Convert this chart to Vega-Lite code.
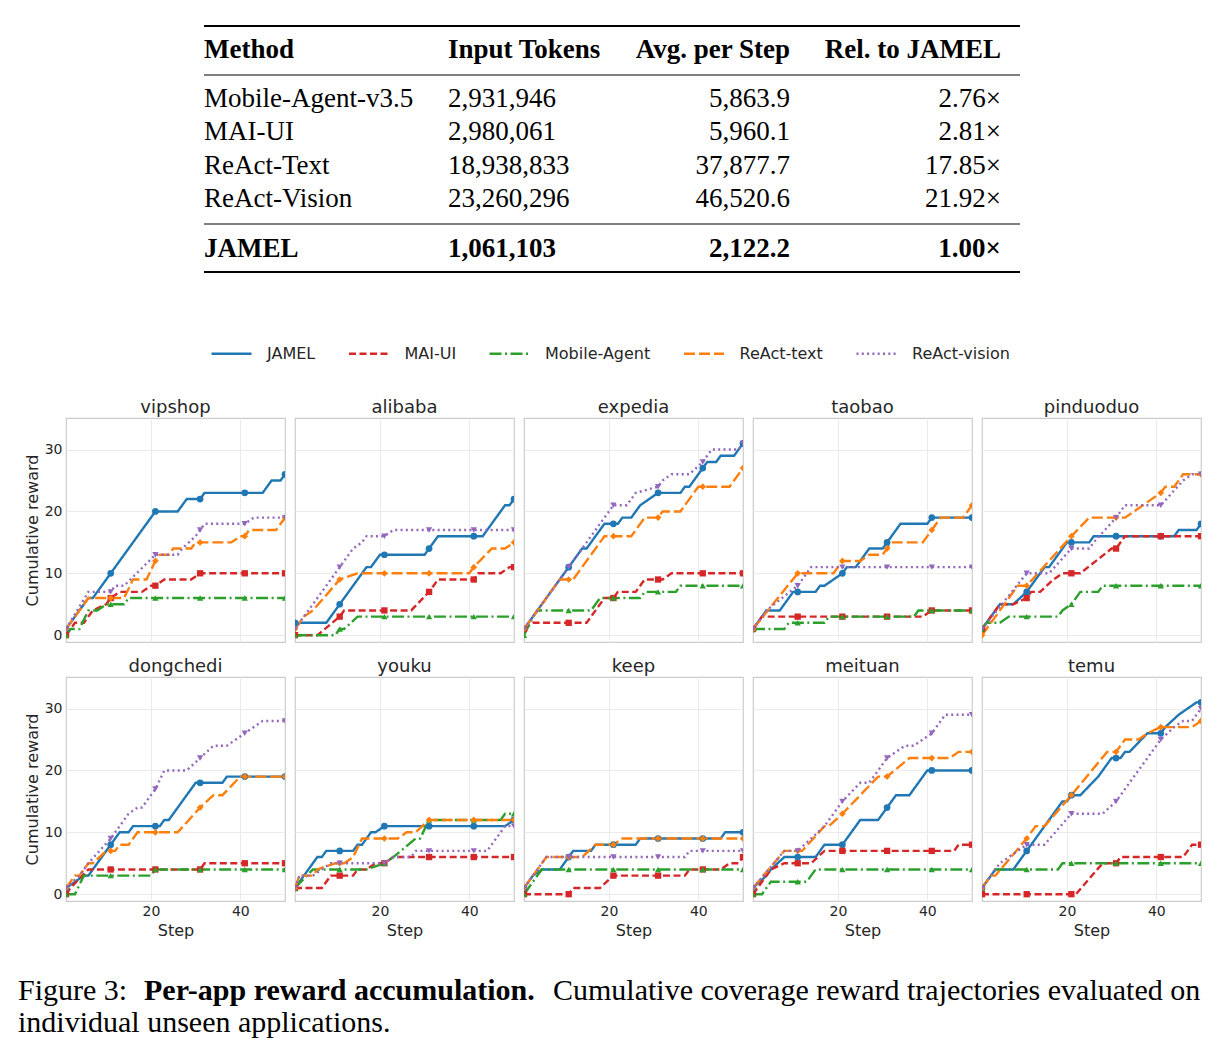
{
"$schema":"https://vega.github.io/schema/vega-lite/v6.json",
"background":"white",
"padding":{"left":18,"top":0,"right":0,"bottom":0},
"spacing":15,
"config":{"font":"DejaVu Sans","view":{"stroke":"#cccccc","strokeWidth":1.2},
"axis":{"labelFont":"DejaVu Sans","labelFontSize":14,"labelColor":"#262626","titleFont":"DejaVu Sans","titleFontSize":16,"titleFontWeight":"normal","titleColor":"#262626","ticks":false,"domain":false,"gridColor":"#ebebeb","gridWidth":1,"labelPadding":4,"titlePadding":4},
"header":{"labelFontSize":18,"labelFont":"DejaVu Sans","labelColor":"#262626","labelPadding":1},
"legend":{"orient":"none","legendX":144,"legendY":332,"direction":"horizontal","symbolType":"stroke","symbolSize":1600,"symbolStrokeWidth":2.4,"labelFontSize":16,"labelFont":"DejaVu Sans","labelColor":"#262626","labelOffset":14,"columnPadding":27.5,"padding":0}},
"data":{"values":[
{"a":"vipshop","m":"JAMEL","s":1,"v":1},{"a":"vipshop","m":"JAMEL","s":6,"v":6},{"a":"vipshop","m":"JAMEL","s":7,"v":6},{"a":"vipshop","m":"JAMEL","s":11,"v":10},{"a":"vipshop","m":"JAMEL","s":21,"v":20},{"a":"vipshop","m":"JAMEL","s":26,"v":20},{"a":"vipshop","m":"JAMEL","s":28,"v":22},{"a":"vipshop","m":"JAMEL","s":31,"v":22},{"a":"vipshop","m":"JAMEL","s":32,"v":23},{"a":"vipshop","m":"JAMEL","s":41,"v":23},{"a":"vipshop","m":"JAMEL","s":45,"v":23},{"a":"vipshop","m":"JAMEL","s":47,"v":25},{"a":"vipshop","m":"JAMEL","s":49,"v":25},{"a":"vipshop","m":"JAMEL","s":50,"v":26},
{"a":"vipshop","m":"MAI-UI","s":1,"v":0},{"a":"vipshop","m":"MAI-UI","s":3,"v":2},{"a":"vipshop","m":"MAI-UI","s":5,"v":2},{"a":"vipshop","m":"MAI-UI","s":7,"v":4},{"a":"vipshop","m":"MAI-UI","s":10,"v":5},{"a":"vipshop","m":"MAI-UI","s":11,"v":6},{"a":"vipshop","m":"MAI-UI","s":13,"v":7},{"a":"vipshop","m":"MAI-UI","s":18,"v":7},{"a":"vipshop","m":"MAI-UI","s":20,"v":8},{"a":"vipshop","m":"MAI-UI","s":21,"v":8},{"a":"vipshop","m":"MAI-UI","s":23,"v":9},{"a":"vipshop","m":"MAI-UI","s":29,"v":9},{"a":"vipshop","m":"MAI-UI","s":31,"v":10},{"a":"vipshop","m":"MAI-UI","s":41,"v":10},{"a":"vipshop","m":"MAI-UI","s":50,"v":10},
{"a":"vipshop","m":"Mobile-Agent","s":1,"v":0},{"a":"vipshop","m":"Mobile-Agent","s":2,"v":1},{"a":"vipshop","m":"Mobile-Agent","s":4,"v":1},{"a":"vipshop","m":"Mobile-Agent","s":6,"v":4},{"a":"vipshop","m":"Mobile-Agent","s":8,"v":4},{"a":"vipshop","m":"Mobile-Agent","s":10,"v":5},{"a":"vipshop","m":"Mobile-Agent","s":11,"v":5},{"a":"vipshop","m":"Mobile-Agent","s":14,"v":5},{"a":"vipshop","m":"Mobile-Agent","s":15,"v":6},{"a":"vipshop","m":"Mobile-Agent","s":21,"v":6},{"a":"vipshop","m":"Mobile-Agent","s":31,"v":6},{"a":"vipshop","m":"Mobile-Agent","s":41,"v":6},{"a":"vipshop","m":"Mobile-Agent","s":50,"v":6},
{"a":"vipshop","m":"ReAct-text","s":1,"v":1},{"a":"vipshop","m":"ReAct-text","s":6,"v":6},{"a":"vipshop","m":"ReAct-text","s":11,"v":6},{"a":"vipshop","m":"ReAct-text","s":14,"v":6},{"a":"vipshop","m":"ReAct-text","s":16,"v":9},{"a":"vipshop","m":"ReAct-text","s":19,"v":9},{"a":"vipshop","m":"ReAct-text","s":21,"v":12},{"a":"vipshop","m":"ReAct-text","s":22,"v":13},{"a":"vipshop","m":"ReAct-text","s":24,"v":13},{"a":"vipshop","m":"ReAct-text","s":25,"v":14},{"a":"vipshop","m":"ReAct-text","s":29,"v":14},{"a":"vipshop","m":"ReAct-text","s":30,"v":15},{"a":"vipshop","m":"ReAct-text","s":31,"v":15},{"a":"vipshop","m":"ReAct-text","s":38,"v":15},{"a":"vipshop","m":"ReAct-text","s":40,"v":16},{"a":"vipshop","m":"ReAct-text","s":41,"v":16},{"a":"vipshop","m":"ReAct-text","s":42,"v":17},{"a":"vipshop","m":"ReAct-text","s":48,"v":17},{"a":"vipshop","m":"ReAct-text","s":50,"v":19},
{"a":"vipshop","m":"ReAct-vision","s":1,"v":1},{"a":"vipshop","m":"ReAct-vision","s":6,"v":7},{"a":"vipshop","m":"ReAct-vision","s":11,"v":7},{"a":"vipshop","m":"ReAct-vision","s":12,"v":8},{"a":"vipshop","m":"ReAct-vision","s":14,"v":8},{"a":"vipshop","m":"ReAct-vision","s":21,"v":13},{"a":"vipshop","m":"ReAct-vision","s":26,"v":13},{"a":"vipshop","m":"ReAct-vision","s":27,"v":14},{"a":"vipshop","m":"ReAct-vision","s":30,"v":16},{"a":"vipshop","m":"ReAct-vision","s":31,"v":17},{"a":"vipshop","m":"ReAct-vision","s":32,"v":18},{"a":"vipshop","m":"ReAct-vision","s":41,"v":18},{"a":"vipshop","m":"ReAct-vision","s":43,"v":19},{"a":"vipshop","m":"ReAct-vision","s":50,"v":19},
{"a":"alibaba","m":"JAMEL","s":1,"v":2},{"a":"alibaba","m":"JAMEL","s":8,"v":2},{"a":"alibaba","m":"JAMEL","s":11,"v":5},{"a":"alibaba","m":"JAMEL","s":16,"v":10},{"a":"alibaba","m":"JAMEL","s":17,"v":11},{"a":"alibaba","m":"JAMEL","s":18,"v":11},{"a":"alibaba","m":"JAMEL","s":20,"v":13},{"a":"alibaba","m":"JAMEL","s":21,"v":13},{"a":"alibaba","m":"JAMEL","s":30,"v":13},{"a":"alibaba","m":"JAMEL","s":31,"v":14},{"a":"alibaba","m":"JAMEL","s":33,"v":16},{"a":"alibaba","m":"JAMEL","s":41,"v":16},{"a":"alibaba","m":"JAMEL","s":43,"v":16},{"a":"alibaba","m":"JAMEL","s":48,"v":21},{"a":"alibaba","m":"JAMEL","s":49,"v":21},{"a":"alibaba","m":"JAMEL","s":50,"v":22},
{"a":"alibaba","m":"MAI-UI","s":1,"v":0},{"a":"alibaba","m":"MAI-UI","s":6,"v":0},{"a":"alibaba","m":"MAI-UI","s":11,"v":3},{"a":"alibaba","m":"MAI-UI","s":12,"v":4},{"a":"alibaba","m":"MAI-UI","s":21,"v":4},{"a":"alibaba","m":"MAI-UI","s":27,"v":4},{"a":"alibaba","m":"MAI-UI","s":31,"v":7},{"a":"alibaba","m":"MAI-UI","s":32,"v":8},{"a":"alibaba","m":"MAI-UI","s":33,"v":9},{"a":"alibaba","m":"MAI-UI","s":41,"v":9},{"a":"alibaba","m":"MAI-UI","s":42,"v":10},{"a":"alibaba","m":"MAI-UI","s":47,"v":10},{"a":"alibaba","m":"MAI-UI","s":49,"v":11},{"a":"alibaba","m":"MAI-UI","s":50,"v":11},
{"a":"alibaba","m":"Mobile-Agent","s":1,"v":0},{"a":"alibaba","m":"Mobile-Agent","s":10,"v":0},{"a":"alibaba","m":"Mobile-Agent","s":11,"v":1},{"a":"alibaba","m":"Mobile-Agent","s":12,"v":1},{"a":"alibaba","m":"Mobile-Agent","s":15,"v":3},{"a":"alibaba","m":"Mobile-Agent","s":21,"v":3},{"a":"alibaba","m":"Mobile-Agent","s":31,"v":3},{"a":"alibaba","m":"Mobile-Agent","s":41,"v":3},{"a":"alibaba","m":"Mobile-Agent","s":50,"v":3},
{"a":"alibaba","m":"ReAct-text","s":1,"v":1},{"a":"alibaba","m":"ReAct-text","s":3,"v":3},{"a":"alibaba","m":"ReAct-text","s":5,"v":4},{"a":"alibaba","m":"ReAct-text","s":11,"v":9},{"a":"alibaba","m":"ReAct-text","s":15,"v":10},{"a":"alibaba","m":"ReAct-text","s":21,"v":10},{"a":"alibaba","m":"ReAct-text","s":31,"v":10},{"a":"alibaba","m":"ReAct-text","s":40,"v":10},{"a":"alibaba","m":"ReAct-text","s":41,"v":11},{"a":"alibaba","m":"ReAct-text","s":45,"v":14},{"a":"alibaba","m":"ReAct-text","s":48,"v":14},{"a":"alibaba","m":"ReAct-text","s":50,"v":15},
{"a":"alibaba","m":"ReAct-vision","s":1,"v":1},{"a":"alibaba","m":"ReAct-vision","s":11,"v":11},{"a":"alibaba","m":"ReAct-vision","s":14,"v":14},{"a":"alibaba","m":"ReAct-vision","s":16,"v":15},{"a":"alibaba","m":"ReAct-vision","s":17,"v":16},{"a":"alibaba","m":"ReAct-vision","s":21,"v":16},{"a":"alibaba","m":"ReAct-vision","s":23,"v":17},{"a":"alibaba","m":"ReAct-vision","s":31,"v":17},{"a":"alibaba","m":"ReAct-vision","s":41,"v":17},{"a":"alibaba","m":"ReAct-vision","s":50,"v":17},
{"a":"expedia","m":"JAMEL","s":1,"v":1},{"a":"expedia","m":"JAMEL","s":11,"v":11},{"a":"expedia","m":"JAMEL","s":14,"v":14},{"a":"expedia","m":"JAMEL","s":15,"v":14},{"a":"expedia","m":"JAMEL","s":19,"v":18},{"a":"expedia","m":"JAMEL","s":21,"v":18},{"a":"expedia","m":"JAMEL","s":22,"v":18},{"a":"expedia","m":"JAMEL","s":23,"v":19},{"a":"expedia","m":"JAMEL","s":25,"v":19},{"a":"expedia","m":"JAMEL","s":27,"v":21},{"a":"expedia","m":"JAMEL","s":29,"v":22},{"a":"expedia","m":"JAMEL","s":31,"v":23},{"a":"expedia","m":"JAMEL","s":36,"v":23},{"a":"expedia","m":"JAMEL","s":37,"v":24},{"a":"expedia","m":"JAMEL","s":38,"v":24},{"a":"expedia","m":"JAMEL","s":41,"v":27},{"a":"expedia","m":"JAMEL","s":42,"v":28},{"a":"expedia","m":"JAMEL","s":44,"v":28},{"a":"expedia","m":"JAMEL","s":45,"v":29},{"a":"expedia","m":"JAMEL","s":48,"v":29},{"a":"expedia","m":"JAMEL","s":50,"v":31},
{"a":"expedia","m":"MAI-UI","s":1,"v":1},{"a":"expedia","m":"MAI-UI","s":3,"v":2},{"a":"expedia","m":"MAI-UI","s":11,"v":2},{"a":"expedia","m":"MAI-UI","s":15,"v":2},{"a":"expedia","m":"MAI-UI","s":19,"v":6},{"a":"expedia","m":"MAI-UI","s":21,"v":6},{"a":"expedia","m":"MAI-UI","s":22,"v":7},{"a":"expedia","m":"MAI-UI","s":26,"v":7},{"a":"expedia","m":"MAI-UI","s":28,"v":9},{"a":"expedia","m":"MAI-UI","s":31,"v":9},{"a":"expedia","m":"MAI-UI","s":32,"v":9},{"a":"expedia","m":"MAI-UI","s":34,"v":10},{"a":"expedia","m":"MAI-UI","s":41,"v":10},{"a":"expedia","m":"MAI-UI","s":50,"v":10},
{"a":"expedia","m":"Mobile-Agent","s":1,"v":0},{"a":"expedia","m":"Mobile-Agent","s":3,"v":3},{"a":"expedia","m":"Mobile-Agent","s":4,"v":4},{"a":"expedia","m":"Mobile-Agent","s":11,"v":4},{"a":"expedia","m":"Mobile-Agent","s":16,"v":4},{"a":"expedia","m":"Mobile-Agent","s":18,"v":6},{"a":"expedia","m":"Mobile-Agent","s":21,"v":6},{"a":"expedia","m":"Mobile-Agent","s":27,"v":6},{"a":"expedia","m":"Mobile-Agent","s":28,"v":7},{"a":"expedia","m":"Mobile-Agent","s":31,"v":7},{"a":"expedia","m":"Mobile-Agent","s":35,"v":7},{"a":"expedia","m":"Mobile-Agent","s":36,"v":8},{"a":"expedia","m":"Mobile-Agent","s":41,"v":8},{"a":"expedia","m":"Mobile-Agent","s":50,"v":8},
{"a":"expedia","m":"ReAct-text","s":1,"v":1},{"a":"expedia","m":"ReAct-text","s":9,"v":9},{"a":"expedia","m":"ReAct-text","s":11,"v":9},{"a":"expedia","m":"ReAct-text","s":12,"v":9},{"a":"expedia","m":"ReAct-text","s":19,"v":16},{"a":"expedia","m":"ReAct-text","s":21,"v":16},{"a":"expedia","m":"ReAct-text","s":25,"v":16},{"a":"expedia","m":"ReAct-text","s":28,"v":19},{"a":"expedia","m":"ReAct-text","s":31,"v":19},{"a":"expedia","m":"ReAct-text","s":32,"v":20},{"a":"expedia","m":"ReAct-text","s":36,"v":20},{"a":"expedia","m":"ReAct-text","s":40,"v":24},{"a":"expedia","m":"ReAct-text","s":41,"v":24},{"a":"expedia","m":"ReAct-text","s":47,"v":24},{"a":"expedia","m":"ReAct-text","s":50,"v":27},
{"a":"expedia","m":"ReAct-vision","s":1,"v":1},{"a":"expedia","m":"ReAct-vision","s":11,"v":11},{"a":"expedia","m":"ReAct-vision","s":15,"v":15},{"a":"expedia","m":"ReAct-vision","s":21,"v":21},{"a":"expedia","m":"ReAct-vision","s":24,"v":21},{"a":"expedia","m":"ReAct-vision","s":26,"v":23},{"a":"expedia","m":"ReAct-vision","s":31,"v":24},{"a":"expedia","m":"ReAct-vision","s":32,"v":25},{"a":"expedia","m":"ReAct-vision","s":34,"v":26},{"a":"expedia","m":"ReAct-vision","s":38,"v":26},{"a":"expedia","m":"ReAct-vision","s":41,"v":28},{"a":"expedia","m":"ReAct-vision","s":43,"v":30},{"a":"expedia","m":"ReAct-vision","s":49,"v":30},{"a":"expedia","m":"ReAct-vision","s":50,"v":31},
{"a":"taobao","m":"JAMEL","s":1,"v":1},{"a":"taobao","m":"JAMEL","s":2,"v":2},{"a":"taobao","m":"JAMEL","s":4,"v":4},{"a":"taobao","m":"JAMEL","s":7,"v":4},{"a":"taobao","m":"JAMEL","s":10,"v":7},{"a":"taobao","m":"JAMEL","s":11,"v":7},{"a":"taobao","m":"JAMEL","s":15,"v":7},{"a":"taobao","m":"JAMEL","s":16,"v":8},{"a":"taobao","m":"JAMEL","s":17,"v":8},{"a":"taobao","m":"JAMEL","s":21,"v":10},{"a":"taobao","m":"JAMEL","s":22,"v":11},{"a":"taobao","m":"JAMEL","s":24,"v":11},{"a":"taobao","m":"JAMEL","s":27,"v":14},{"a":"taobao","m":"JAMEL","s":30,"v":14},{"a":"taobao","m":"JAMEL","s":31,"v":15},{"a":"taobao","m":"JAMEL","s":34,"v":18},{"a":"taobao","m":"JAMEL","s":40,"v":18},{"a":"taobao","m":"JAMEL","s":41,"v":19},{"a":"taobao","m":"JAMEL","s":50,"v":19},
{"a":"taobao","m":"MAI-UI","s":1,"v":1},{"a":"taobao","m":"MAI-UI","s":3,"v":3},{"a":"taobao","m":"MAI-UI","s":11,"v":3},{"a":"taobao","m":"MAI-UI","s":21,"v":3},{"a":"taobao","m":"MAI-UI","s":31,"v":3},{"a":"taobao","m":"MAI-UI","s":39,"v":3},{"a":"taobao","m":"MAI-UI","s":41,"v":4},{"a":"taobao","m":"MAI-UI","s":50,"v":4},
{"a":"taobao","m":"Mobile-Agent","s":1,"v":1},{"a":"taobao","m":"Mobile-Agent","s":8,"v":1},{"a":"taobao","m":"Mobile-Agent","s":9,"v":2},{"a":"taobao","m":"Mobile-Agent","s":11,"v":2},{"a":"taobao","m":"Mobile-Agent","s":17,"v":2},{"a":"taobao","m":"Mobile-Agent","s":18,"v":3},{"a":"taobao","m":"Mobile-Agent","s":21,"v":3},{"a":"taobao","m":"Mobile-Agent","s":31,"v":3},{"a":"taobao","m":"Mobile-Agent","s":37,"v":3},{"a":"taobao","m":"Mobile-Agent","s":38,"v":4},{"a":"taobao","m":"Mobile-Agent","s":41,"v":4},{"a":"taobao","m":"Mobile-Agent","s":50,"v":4},
{"a":"taobao","m":"ReAct-text","s":1,"v":1},{"a":"taobao","m":"ReAct-text","s":11,"v":10},{"a":"taobao","m":"ReAct-text","s":19,"v":10},{"a":"taobao","m":"ReAct-text","s":21,"v":12},{"a":"taobao","m":"ReAct-text","s":25,"v":12},{"a":"taobao","m":"ReAct-text","s":27,"v":13},{"a":"taobao","m":"ReAct-text","s":30,"v":13},{"a":"taobao","m":"ReAct-text","s":31,"v":14},{"a":"taobao","m":"ReAct-text","s":32,"v":15},{"a":"taobao","m":"ReAct-text","s":39,"v":15},{"a":"taobao","m":"ReAct-text","s":41,"v":17},{"a":"taobao","m":"ReAct-text","s":43,"v":19},{"a":"taobao","m":"ReAct-text","s":48,"v":19},{"a":"taobao","m":"ReAct-text","s":50,"v":21},
{"a":"taobao","m":"ReAct-vision","s":1,"v":1},{"a":"taobao","m":"ReAct-vision","s":4,"v":4},{"a":"taobao","m":"ReAct-vision","s":11,"v":8},{"a":"taobao","m":"ReAct-vision","s":14,"v":11},{"a":"taobao","m":"ReAct-vision","s":21,"v":11},{"a":"taobao","m":"ReAct-vision","s":31,"v":11},{"a":"taobao","m":"ReAct-vision","s":41,"v":11},{"a":"taobao","m":"ReAct-vision","s":50,"v":11},
{"a":"pinduoduo","m":"JAMEL","s":1,"v":1},{"a":"pinduoduo","m":"JAMEL","s":2,"v":2},{"a":"pinduoduo","m":"JAMEL","s":5,"v":5},{"a":"pinduoduo","m":"JAMEL","s":8,"v":5},{"a":"pinduoduo","m":"JAMEL","s":11,"v":7},{"a":"pinduoduo","m":"JAMEL","s":14,"v":10},{"a":"pinduoduo","m":"JAMEL","s":15,"v":11},{"a":"pinduoduo","m":"JAMEL","s":16,"v":11},{"a":"pinduoduo","m":"JAMEL","s":20,"v":15},{"a":"pinduoduo","m":"JAMEL","s":21,"v":15},{"a":"pinduoduo","m":"JAMEL","s":25,"v":15},{"a":"pinduoduo","m":"JAMEL","s":26,"v":16},{"a":"pinduoduo","m":"JAMEL","s":31,"v":16},{"a":"pinduoduo","m":"JAMEL","s":41,"v":16},{"a":"pinduoduo","m":"JAMEL","s":44,"v":16},{"a":"pinduoduo","m":"JAMEL","s":45,"v":17},{"a":"pinduoduo","m":"JAMEL","s":49,"v":17},{"a":"pinduoduo","m":"JAMEL","s":50,"v":18},
{"a":"pinduoduo","m":"MAI-UI","s":1,"v":1},{"a":"pinduoduo","m":"MAI-UI","s":2,"v":2},{"a":"pinduoduo","m":"MAI-UI","s":5,"v":5},{"a":"pinduoduo","m":"MAI-UI","s":8,"v":5},{"a":"pinduoduo","m":"MAI-UI","s":11,"v":6},{"a":"pinduoduo","m":"MAI-UI","s":12,"v":7},{"a":"pinduoduo","m":"MAI-UI","s":14,"v":7},{"a":"pinduoduo","m":"MAI-UI","s":17,"v":9},{"a":"pinduoduo","m":"MAI-UI","s":19,"v":10},{"a":"pinduoduo","m":"MAI-UI","s":21,"v":10},{"a":"pinduoduo","m":"MAI-UI","s":23,"v":10},{"a":"pinduoduo","m":"MAI-UI","s":30,"v":14},{"a":"pinduoduo","m":"MAI-UI","s":31,"v":14},{"a":"pinduoduo","m":"MAI-UI","s":33,"v":16},{"a":"pinduoduo","m":"MAI-UI","s":41,"v":16},{"a":"pinduoduo","m":"MAI-UI","s":50,"v":16},
{"a":"pinduoduo","m":"Mobile-Agent","s":1,"v":1},{"a":"pinduoduo","m":"Mobile-Agent","s":2,"v":2},{"a":"pinduoduo","m":"Mobile-Agent","s":5,"v":2},{"a":"pinduoduo","m":"Mobile-Agent","s":7,"v":3},{"a":"pinduoduo","m":"Mobile-Agent","s":11,"v":3},{"a":"pinduoduo","m":"Mobile-Agent","s":18,"v":3},{"a":"pinduoduo","m":"Mobile-Agent","s":19,"v":4},{"a":"pinduoduo","m":"Mobile-Agent","s":21,"v":5},{"a":"pinduoduo","m":"Mobile-Agent","s":23,"v":7},{"a":"pinduoduo","m":"Mobile-Agent","s":27,"v":7},{"a":"pinduoduo","m":"Mobile-Agent","s":28,"v":8},{"a":"pinduoduo","m":"Mobile-Agent","s":31,"v":8},{"a":"pinduoduo","m":"Mobile-Agent","s":41,"v":8},{"a":"pinduoduo","m":"Mobile-Agent","s":50,"v":8},
{"a":"pinduoduo","m":"ReAct-text","s":1,"v":0},{"a":"pinduoduo","m":"ReAct-text","s":9,"v":8},{"a":"pinduoduo","m":"ReAct-text","s":11,"v":8},{"a":"pinduoduo","m":"ReAct-text","s":21,"v":16},{"a":"pinduoduo","m":"ReAct-text","s":25,"v":19},{"a":"pinduoduo","m":"ReAct-text","s":31,"v":19},{"a":"pinduoduo","m":"ReAct-text","s":33,"v":19},{"a":"pinduoduo","m":"ReAct-text","s":35,"v":20},{"a":"pinduoduo","m":"ReAct-text","s":41,"v":23},{"a":"pinduoduo","m":"ReAct-text","s":42,"v":24},{"a":"pinduoduo","m":"ReAct-text","s":44,"v":24},{"a":"pinduoduo","m":"ReAct-text","s":46,"v":26},{"a":"pinduoduo","m":"ReAct-text","s":50,"v":26},
{"a":"pinduoduo","m":"ReAct-vision","s":1,"v":1},{"a":"pinduoduo","m":"ReAct-vision","s":11,"v":10},{"a":"pinduoduo","m":"ReAct-vision","s":16,"v":10},{"a":"pinduoduo","m":"ReAct-vision","s":21,"v":14},{"a":"pinduoduo","m":"ReAct-vision","s":25,"v":14},{"a":"pinduoduo","m":"ReAct-vision","s":26,"v":15},{"a":"pinduoduo","m":"ReAct-vision","s":31,"v":19},{"a":"pinduoduo","m":"ReAct-vision","s":32,"v":20},{"a":"pinduoduo","m":"ReAct-vision","s":33,"v":21},{"a":"pinduoduo","m":"ReAct-vision","s":41,"v":21},{"a":"pinduoduo","m":"ReAct-vision","s":46,"v":25},{"a":"pinduoduo","m":"ReAct-vision","s":48,"v":26},{"a":"pinduoduo","m":"ReAct-vision","s":50,"v":26},
{"a":"dongchedi","m":"JAMEL","s":1,"v":1},{"a":"dongchedi","m":"JAMEL","s":3,"v":2},{"a":"dongchedi","m":"JAMEL","s":5,"v":3},{"a":"dongchedi","m":"JAMEL","s":6,"v":3},{"a":"dongchedi","m":"JAMEL","s":11,"v":8},{"a":"dongchedi","m":"JAMEL","s":13,"v":10},{"a":"dongchedi","m":"JAMEL","s":15,"v":10},{"a":"dongchedi","m":"JAMEL","s":16,"v":11},{"a":"dongchedi","m":"JAMEL","s":21,"v":11},{"a":"dongchedi","m":"JAMEL","s":22,"v":11},{"a":"dongchedi","m":"JAMEL","s":23,"v":12},{"a":"dongchedi","m":"JAMEL","s":24,"v":12},{"a":"dongchedi","m":"JAMEL","s":30,"v":18},{"a":"dongchedi","m":"JAMEL","s":31,"v":18},{"a":"dongchedi","m":"JAMEL","s":36,"v":18},{"a":"dongchedi","m":"JAMEL","s":37,"v":19},{"a":"dongchedi","m":"JAMEL","s":41,"v":19},{"a":"dongchedi","m":"JAMEL","s":50,"v":19},
{"a":"dongchedi","m":"MAI-UI","s":1,"v":0},{"a":"dongchedi","m":"MAI-UI","s":2,"v":1},{"a":"dongchedi","m":"MAI-UI","s":6,"v":4},{"a":"dongchedi","m":"MAI-UI","s":11,"v":4},{"a":"dongchedi","m":"MAI-UI","s":21,"v":4},{"a":"dongchedi","m":"MAI-UI","s":30,"v":4},{"a":"dongchedi","m":"MAI-UI","s":31,"v":4},{"a":"dongchedi","m":"MAI-UI","s":32,"v":5},{"a":"dongchedi","m":"MAI-UI","s":41,"v":5},{"a":"dongchedi","m":"MAI-UI","s":50,"v":5},
{"a":"dongchedi","m":"Mobile-Agent","s":1,"v":0},{"a":"dongchedi","m":"Mobile-Agent","s":3,"v":0},{"a":"dongchedi","m":"Mobile-Agent","s":5,"v":3},{"a":"dongchedi","m":"Mobile-Agent","s":11,"v":3},{"a":"dongchedi","m":"Mobile-Agent","s":20,"v":3},{"a":"dongchedi","m":"Mobile-Agent","s":21,"v":4},{"a":"dongchedi","m":"Mobile-Agent","s":31,"v":4},{"a":"dongchedi","m":"Mobile-Agent","s":41,"v":4},{"a":"dongchedi","m":"Mobile-Agent","s":50,"v":4},
{"a":"dongchedi","m":"ReAct-text","s":1,"v":1},{"a":"dongchedi","m":"ReAct-text","s":2,"v":2},{"a":"dongchedi","m":"ReAct-text","s":3,"v":3},{"a":"dongchedi","m":"ReAct-text","s":4,"v":3},{"a":"dongchedi","m":"ReAct-text","s":6,"v":5},{"a":"dongchedi","m":"ReAct-text","s":7,"v":5},{"a":"dongchedi","m":"ReAct-text","s":10,"v":7},{"a":"dongchedi","m":"ReAct-text","s":11,"v":7},{"a":"dongchedi","m":"ReAct-text","s":12,"v":7},{"a":"dongchedi","m":"ReAct-text","s":13,"v":8},{"a":"dongchedi","m":"ReAct-text","s":15,"v":8},{"a":"dongchedi","m":"ReAct-text","s":17,"v":10},{"a":"dongchedi","m":"ReAct-text","s":21,"v":10},{"a":"dongchedi","m":"ReAct-text","s":26,"v":10},{"a":"dongchedi","m":"ReAct-text","s":31,"v":14},{"a":"dongchedi","m":"ReAct-text","s":34,"v":16},{"a":"dongchedi","m":"ReAct-text","s":36,"v":16},{"a":"dongchedi","m":"ReAct-text","s":40,"v":19},{"a":"dongchedi","m":"ReAct-text","s":41,"v":19},{"a":"dongchedi","m":"ReAct-text","s":50,"v":19},
{"a":"dongchedi","m":"ReAct-vision","s":1,"v":1},{"a":"dongchedi","m":"ReAct-vision","s":4,"v":3},{"a":"dongchedi","m":"ReAct-vision","s":6,"v":5},{"a":"dongchedi","m":"ReAct-vision","s":11,"v":9},{"a":"dongchedi","m":"ReAct-vision","s":15,"v":13},{"a":"dongchedi","m":"ReAct-vision","s":17,"v":14},{"a":"dongchedi","m":"ReAct-vision","s":18,"v":14},{"a":"dongchedi","m":"ReAct-vision","s":21,"v":17},{"a":"dongchedi","m":"ReAct-vision","s":23,"v":20},{"a":"dongchedi","m":"ReAct-vision","s":28,"v":20},{"a":"dongchedi","m":"ReAct-vision","s":31,"v":22},{"a":"dongchedi","m":"ReAct-vision","s":34,"v":24},{"a":"dongchedi","m":"ReAct-vision","s":37,"v":24},{"a":"dongchedi","m":"ReAct-vision","s":41,"v":26},{"a":"dongchedi","m":"ReAct-vision","s":45,"v":28},{"a":"dongchedi","m":"ReAct-vision","s":50,"v":28},
{"a":"youku","m":"JAMEL","s":1,"v":1},{"a":"youku","m":"JAMEL","s":6,"v":6},{"a":"youku","m":"JAMEL","s":7,"v":6},{"a":"youku","m":"JAMEL","s":8,"v":7},{"a":"youku","m":"JAMEL","s":11,"v":7},{"a":"youku","m":"JAMEL","s":14,"v":7},{"a":"youku","m":"JAMEL","s":15,"v":8},{"a":"youku","m":"JAMEL","s":16,"v":8},{"a":"youku","m":"JAMEL","s":18,"v":10},{"a":"youku","m":"JAMEL","s":19,"v":10},{"a":"youku","m":"JAMEL","s":21,"v":11},{"a":"youku","m":"JAMEL","s":31,"v":11},{"a":"youku","m":"JAMEL","s":41,"v":11},{"a":"youku","m":"JAMEL","s":48,"v":11},{"a":"youku","m":"JAMEL","s":50,"v":12},
{"a":"youku","m":"MAI-UI","s":1,"v":1},{"a":"youku","m":"MAI-UI","s":7,"v":1},{"a":"youku","m":"MAI-UI","s":9,"v":3},{"a":"youku","m":"MAI-UI","s":11,"v":3},{"a":"youku","m":"MAI-UI","s":14,"v":3},{"a":"youku","m":"MAI-UI","s":15,"v":4},{"a":"youku","m":"MAI-UI","s":17,"v":4},{"a":"youku","m":"MAI-UI","s":19,"v":5},{"a":"youku","m":"MAI-UI","s":21,"v":5},{"a":"youku","m":"MAI-UI","s":23,"v":6},{"a":"youku","m":"MAI-UI","s":31,"v":6},{"a":"youku","m":"MAI-UI","s":41,"v":6},{"a":"youku","m":"MAI-UI","s":50,"v":6},
{"a":"youku","m":"Mobile-Agent","s":1,"v":1},{"a":"youku","m":"Mobile-Agent","s":5,"v":4},{"a":"youku","m":"Mobile-Agent","s":11,"v":4},{"a":"youku","m":"Mobile-Agent","s":17,"v":4},{"a":"youku","m":"Mobile-Agent","s":21,"v":5},{"a":"youku","m":"Mobile-Agent","s":23,"v":6},{"a":"youku","m":"Mobile-Agent","s":28,"v":9},{"a":"youku","m":"Mobile-Agent","s":29,"v":9},{"a":"youku","m":"Mobile-Agent","s":31,"v":12},{"a":"youku","m":"Mobile-Agent","s":41,"v":12},{"a":"youku","m":"Mobile-Agent","s":47,"v":12},{"a":"youku","m":"Mobile-Agent","s":48,"v":13},{"a":"youku","m":"Mobile-Agent","s":50,"v":13},
{"a":"youku","m":"ReAct-text","s":1,"v":1},{"a":"youku","m":"ReAct-text","s":2,"v":3},{"a":"youku","m":"ReAct-text","s":5,"v":3},{"a":"youku","m":"ReAct-text","s":6,"v":4},{"a":"youku","m":"ReAct-text","s":10,"v":5},{"a":"youku","m":"ReAct-text","s":11,"v":5},{"a":"youku","m":"ReAct-text","s":12,"v":5},{"a":"youku","m":"ReAct-text","s":14,"v":6},{"a":"youku","m":"ReAct-text","s":16,"v":9},{"a":"youku","m":"ReAct-text","s":21,"v":9},{"a":"youku","m":"ReAct-text","s":24,"v":9},{"a":"youku","m":"ReAct-text","s":26,"v":10},{"a":"youku","m":"ReAct-text","s":28,"v":10},{"a":"youku","m":"ReAct-text","s":31,"v":12},{"a":"youku","m":"ReAct-text","s":41,"v":12},{"a":"youku","m":"ReAct-text","s":50,"v":12},
{"a":"youku","m":"ReAct-vision","s":1,"v":1},{"a":"youku","m":"ReAct-vision","s":2,"v":3},{"a":"youku","m":"ReAct-vision","s":5,"v":3},{"a":"youku","m":"ReAct-vision","s":9,"v":5},{"a":"youku","m":"ReAct-vision","s":11,"v":5},{"a":"youku","m":"ReAct-vision","s":21,"v":5},{"a":"youku","m":"ReAct-vision","s":23,"v":6},{"a":"youku","m":"ReAct-vision","s":27,"v":6},{"a":"youku","m":"ReAct-vision","s":28,"v":7},{"a":"youku","m":"ReAct-vision","s":31,"v":7},{"a":"youku","m":"ReAct-vision","s":41,"v":7},{"a":"youku","m":"ReAct-vision","s":44,"v":7},{"a":"youku","m":"ReAct-vision","s":48,"v":11},{"a":"youku","m":"ReAct-vision","s":50,"v":11},
{"a":"keep","m":"JAMEL","s":1,"v":1},{"a":"keep","m":"JAMEL","s":3,"v":3},{"a":"keep","m":"JAMEL","s":5,"v":4},{"a":"keep","m":"JAMEL","s":9,"v":4},{"a":"keep","m":"JAMEL","s":11,"v":6},{"a":"keep","m":"JAMEL","s":12,"v":7},{"a":"keep","m":"JAMEL","s":16,"v":7},{"a":"keep","m":"JAMEL","s":17,"v":8},{"a":"keep","m":"JAMEL","s":21,"v":8},{"a":"keep","m":"JAMEL","s":26,"v":8},{"a":"keep","m":"JAMEL","s":27,"v":9},{"a":"keep","m":"JAMEL","s":31,"v":9},{"a":"keep","m":"JAMEL","s":41,"v":9},{"a":"keep","m":"JAMEL","s":45,"v":9},{"a":"keep","m":"JAMEL","s":46,"v":10},{"a":"keep","m":"JAMEL","s":50,"v":10},
{"a":"keep","m":"MAI-UI","s":1,"v":0},{"a":"keep","m":"MAI-UI","s":11,"v":0},{"a":"keep","m":"MAI-UI","s":12,"v":1},{"a":"keep","m":"MAI-UI","s":18,"v":1},{"a":"keep","m":"MAI-UI","s":21,"v":3},{"a":"keep","m":"MAI-UI","s":31,"v":3},{"a":"keep","m":"MAI-UI","s":37,"v":3},{"a":"keep","m":"MAI-UI","s":38,"v":4},{"a":"keep","m":"MAI-UI","s":41,"v":4},{"a":"keep","m":"MAI-UI","s":45,"v":4},{"a":"keep","m":"MAI-UI","s":47,"v":5},{"a":"keep","m":"MAI-UI","s":49,"v":5},{"a":"keep","m":"MAI-UI","s":50,"v":6},
{"a":"keep","m":"Mobile-Agent","s":1,"v":0},{"a":"keep","m":"Mobile-Agent","s":5,"v":4},{"a":"keep","m":"Mobile-Agent","s":11,"v":4},{"a":"keep","m":"Mobile-Agent","s":21,"v":4},{"a":"keep","m":"Mobile-Agent","s":31,"v":4},{"a":"keep","m":"Mobile-Agent","s":41,"v":4},{"a":"keep","m":"Mobile-Agent","s":50,"v":4},
{"a":"keep","m":"ReAct-text","s":1,"v":1},{"a":"keep","m":"ReAct-text","s":6,"v":6},{"a":"keep","m":"ReAct-text","s":11,"v":6},{"a":"keep","m":"ReAct-text","s":14,"v":6},{"a":"keep","m":"ReAct-text","s":17,"v":8},{"a":"keep","m":"ReAct-text","s":21,"v":8},{"a":"keep","m":"ReAct-text","s":23,"v":9},{"a":"keep","m":"ReAct-text","s":31,"v":9},{"a":"keep","m":"ReAct-text","s":41,"v":9},{"a":"keep","m":"ReAct-text","s":50,"v":9},
{"a":"keep","m":"ReAct-vision","s":1,"v":1},{"a":"keep","m":"ReAct-vision","s":6,"v":6},{"a":"keep","m":"ReAct-vision","s":11,"v":6},{"a":"keep","m":"ReAct-vision","s":21,"v":6},{"a":"keep","m":"ReAct-vision","s":31,"v":6},{"a":"keep","m":"ReAct-vision","s":37,"v":6},{"a":"keep","m":"ReAct-vision","s":38,"v":7},{"a":"keep","m":"ReAct-vision","s":41,"v":7},{"a":"keep","m":"ReAct-vision","s":50,"v":7},
{"a":"meituan","m":"JAMEL","s":1,"v":1},{"a":"meituan","m":"JAMEL","s":4,"v":3},{"a":"meituan","m":"JAMEL","s":5,"v":4},{"a":"meituan","m":"JAMEL","s":8,"v":6},{"a":"meituan","m":"JAMEL","s":11,"v":6},{"a":"meituan","m":"JAMEL","s":15,"v":6},{"a":"meituan","m":"JAMEL","s":17,"v":8},{"a":"meituan","m":"JAMEL","s":21,"v":8},{"a":"meituan","m":"JAMEL","s":25,"v":12},{"a":"meituan","m":"JAMEL","s":29,"v":12},{"a":"meituan","m":"JAMEL","s":31,"v":14},{"a":"meituan","m":"JAMEL","s":33,"v":16},{"a":"meituan","m":"JAMEL","s":36,"v":16},{"a":"meituan","m":"JAMEL","s":40,"v":20},{"a":"meituan","m":"JAMEL","s":41,"v":20},{"a":"meituan","m":"JAMEL","s":50,"v":20},
{"a":"meituan","m":"MAI-UI","s":1,"v":0},{"a":"meituan","m":"MAI-UI","s":5,"v":4},{"a":"meituan","m":"MAI-UI","s":8,"v":5},{"a":"meituan","m":"MAI-UI","s":11,"v":5},{"a":"meituan","m":"MAI-UI","s":14,"v":5},{"a":"meituan","m":"MAI-UI","s":17,"v":7},{"a":"meituan","m":"MAI-UI","s":21,"v":7},{"a":"meituan","m":"MAI-UI","s":31,"v":7},{"a":"meituan","m":"MAI-UI","s":41,"v":7},{"a":"meituan","m":"MAI-UI","s":46,"v":7},{"a":"meituan","m":"MAI-UI","s":47,"v":8},{"a":"meituan","m":"MAI-UI","s":50,"v":8},
{"a":"meituan","m":"Mobile-Agent","s":1,"v":0},{"a":"meituan","m":"Mobile-Agent","s":3,"v":0},{"a":"meituan","m":"Mobile-Agent","s":5,"v":2},{"a":"meituan","m":"Mobile-Agent","s":11,"v":2},{"a":"meituan","m":"Mobile-Agent","s":13,"v":2},{"a":"meituan","m":"Mobile-Agent","s":15,"v":4},{"a":"meituan","m":"Mobile-Agent","s":21,"v":4},{"a":"meituan","m":"Mobile-Agent","s":31,"v":4},{"a":"meituan","m":"Mobile-Agent","s":41,"v":4},{"a":"meituan","m":"Mobile-Agent","s":50,"v":4},
{"a":"meituan","m":"ReAct-text","s":1,"v":1},{"a":"meituan","m":"ReAct-text","s":8,"v":7},{"a":"meituan","m":"ReAct-text","s":11,"v":7},{"a":"meituan","m":"ReAct-text","s":12,"v":7},{"a":"meituan","m":"ReAct-text","s":17,"v":11},{"a":"meituan","m":"ReAct-text","s":18,"v":11},{"a":"meituan","m":"ReAct-text","s":21,"v":13},{"a":"meituan","m":"ReAct-text","s":29,"v":19},{"a":"meituan","m":"ReAct-text","s":31,"v":19},{"a":"meituan","m":"ReAct-text","s":36,"v":22},{"a":"meituan","m":"ReAct-text","s":41,"v":22},{"a":"meituan","m":"ReAct-text","s":45,"v":22},{"a":"meituan","m":"ReAct-text","s":47,"v":23},{"a":"meituan","m":"ReAct-text","s":50,"v":23},
{"a":"meituan","m":"ReAct-vision","s":1,"v":1},{"a":"meituan","m":"ReAct-vision","s":8,"v":7},{"a":"meituan","m":"ReAct-vision","s":11,"v":7},{"a":"meituan","m":"ReAct-vision","s":17,"v":11},{"a":"meituan","m":"ReAct-vision","s":21,"v":15},{"a":"meituan","m":"ReAct-vision","s":25,"v":18},{"a":"meituan","m":"ReAct-vision","s":27,"v":18},{"a":"meituan","m":"ReAct-vision","s":31,"v":22},{"a":"meituan","m":"ReAct-vision","s":35,"v":24},{"a":"meituan","m":"ReAct-vision","s":37,"v":24},{"a":"meituan","m":"ReAct-vision","s":41,"v":26},{"a":"meituan","m":"ReAct-vision","s":44,"v":29},{"a":"meituan","m":"ReAct-vision","s":50,"v":29},
{"a":"temu","m":"JAMEL","s":1,"v":1},{"a":"temu","m":"JAMEL","s":4,"v":4},{"a":"temu","m":"JAMEL","s":8,"v":4},{"a":"temu","m":"JAMEL","s":9,"v":5},{"a":"temu","m":"JAMEL","s":11,"v":7},{"a":"temu","m":"JAMEL","s":19,"v":15},{"a":"temu","m":"JAMEL","s":20,"v":15},{"a":"temu","m":"JAMEL","s":21,"v":16},{"a":"temu","m":"JAMEL","s":23,"v":16},{"a":"temu","m":"JAMEL","s":27,"v":19},{"a":"temu","m":"JAMEL","s":28,"v":20},{"a":"temu","m":"JAMEL","s":30,"v":22},{"a":"temu","m":"JAMEL","s":31,"v":22},{"a":"temu","m":"JAMEL","s":32,"v":22},{"a":"temu","m":"JAMEL","s":33,"v":23},{"a":"temu","m":"JAMEL","s":34,"v":23},{"a":"temu","m":"JAMEL","s":38,"v":26},{"a":"temu","m":"JAMEL","s":41,"v":26},{"a":"temu","m":"JAMEL","s":42,"v":27},{"a":"temu","m":"JAMEL","s":45,"v":29},{"a":"temu","m":"JAMEL","s":49,"v":31},{"a":"temu","m":"JAMEL","s":50,"v":31},
{"a":"temu","m":"MAI-UI","s":1,"v":0},{"a":"temu","m":"MAI-UI","s":11,"v":0},{"a":"temu","m":"MAI-UI","s":21,"v":0},{"a":"temu","m":"MAI-UI","s":22,"v":0},{"a":"temu","m":"MAI-UI","s":28,"v":5},{"a":"temu","m":"MAI-UI","s":31,"v":5},{"a":"temu","m":"MAI-UI","s":32,"v":6},{"a":"temu","m":"MAI-UI","s":41,"v":6},{"a":"temu","m":"MAI-UI","s":46,"v":6},{"a":"temu","m":"MAI-UI","s":48,"v":8},{"a":"temu","m":"MAI-UI","s":50,"v":8},
{"a":"temu","m":"Mobile-Agent","s":1,"v":1},{"a":"temu","m":"Mobile-Agent","s":4,"v":4},{"a":"temu","m":"Mobile-Agent","s":11,"v":4},{"a":"temu","m":"Mobile-Agent","s":18,"v":4},{"a":"temu","m":"Mobile-Agent","s":19,"v":5},{"a":"temu","m":"Mobile-Agent","s":21,"v":5},{"a":"temu","m":"Mobile-Agent","s":31,"v":5},{"a":"temu","m":"Mobile-Agent","s":41,"v":5},{"a":"temu","m":"Mobile-Agent","s":50,"v":5},
{"a":"temu","m":"ReAct-text","s":1,"v":1},{"a":"temu","m":"ReAct-text","s":3,"v":3},{"a":"temu","m":"ReAct-text","s":4,"v":3},{"a":"temu","m":"ReAct-text","s":11,"v":9},{"a":"temu","m":"ReAct-text","s":13,"v":11},{"a":"temu","m":"ReAct-text","s":15,"v":11},{"a":"temu","m":"ReAct-text","s":21,"v":16},{"a":"temu","m":"ReAct-text","s":29,"v":23},{"a":"temu","m":"ReAct-text","s":31,"v":23},{"a":"temu","m":"ReAct-text","s":32,"v":24},{"a":"temu","m":"ReAct-text","s":33,"v":25},{"a":"temu","m":"ReAct-text","s":36,"v":25},{"a":"temu","m":"ReAct-text","s":38,"v":26},{"a":"temu","m":"ReAct-text","s":41,"v":27},{"a":"temu","m":"ReAct-text","s":48,"v":27},{"a":"temu","m":"ReAct-text","s":50,"v":28},
{"a":"temu","m":"ReAct-vision","s":1,"v":1},{"a":"temu","m":"ReAct-vision","s":5,"v":5},{"a":"temu","m":"ReAct-vision","s":11,"v":8},{"a":"temu","m":"ReAct-vision","s":15,"v":8},{"a":"temu","m":"ReAct-vision","s":21,"v":13},{"a":"temu","m":"ReAct-vision","s":28,"v":13},{"a":"temu","m":"ReAct-vision","s":31,"v":15},{"a":"temu","m":"ReAct-vision","s":41,"v":25},{"a":"temu","m":"ReAct-vision","s":44,"v":27},{"a":"temu","m":"ReAct-vision","s":46,"v":28},{"a":"temu","m":"ReAct-vision","s":48,"v":28},{"a":"temu","m":"ReAct-vision","s":50,"v":30}
]},
"vconcat":[
{"width":1166,"height":384,"view":{"stroke":null},
"data":{"values":[
{"r":0,"c":0,"t":"Method"},{"r":0,"c":1,"t":"Input Tokens"},{"r":0,"c":2,"t":"Avg. per Step"},{"r":0,"c":3,"t":"Rel. to JAMEL"},
{"r":1,"c":0,"t":"Mobile-Agent-v3.5"},{"r":1,"c":1,"t":"2,931,946"},{"r":1,"c":2,"t":"5,863.9"},{"r":1,"c":3,"t":"2.76×"},
{"r":2,"c":0,"t":"MAI-UI"},{"r":2,"c":1,"t":"2,980,061"},{"r":2,"c":2,"t":"5,960.1"},{"r":2,"c":3,"t":"2.81×"},
{"r":3,"c":0,"t":"ReAct-Text"},{"r":3,"c":1,"t":"18,938,833"},{"r":3,"c":2,"t":"37,877.7"},{"r":3,"c":3,"t":"17.85×"},
{"r":4,"c":0,"t":"ReAct-Vision"},{"r":4,"c":1,"t":"23,260,296"},{"r":4,"c":2,"t":"46,520.6"},{"r":4,"c":3,"t":"21.92×"},
{"r":5,"c":0,"t":"JAMEL"},{"r":5,"c":1,"t":"1,061,103"},{"r":5,"c":2,"t":"2,122.2"},{"r":5,"c":3,"t":"1.00×"},
{"r":-0.5,"c":0,"t":""},{"r":-0.5,"c":4,"t":""},{"r":0.5,"c":0,"t":""},{"r":0.5,"c":4,"t":""},{"r":4.5,"c":0,"t":""},{"r":4.5,"c":4,"t":""},{"r":5.5,"c":0,"t":""},{"r":5.5,"c":4,"t":""}]},
"encoding":{"x":{"field":"c","type":"quantitative","scale":{"domain":[0,1,2,3,4],"range":[138,382,724,935,954],"nice":false,"zero":false},"axis":null},
"y":{"field":"r","type":"quantitative","scale":{"domain":[-0.5,0,0.5,1,4,4.5,5,5.5],"range":[26,50,75,99,199,224,249,272],"nice":false,"zero":false},"axis":null}},
"layer":[
{"transform":[{"filter":"datum.c <= 1 && datum.r > 0 && datum.r < 5 && datum.t != ''"}],"mark":{"type":"text","align":"left","baseline":"middle","font":"Liberation Serif","fontSize":27,"color":"black"},"encoding":{"text":{"field":"t"}}},
{"transform":[{"filter":"datum.c <= 1 && (datum.r == 0 || datum.r == 5) && datum.t != ''"}],"mark":{"type":"text","align":"left","baseline":"middle","font":"Liberation Serif","fontSize":27,"fontWeight":"bold","color":"black"},"encoding":{"text":{"field":"t"}}},
{"transform":[{"filter":"datum.c >= 2 && datum.r > 0 && datum.r < 5 && datum.t != ''"}],"mark":{"type":"text","align":"right","baseline":"middle","font":"Liberation Serif","fontSize":27,"color":"black"},"encoding":{"text":{"field":"t"}}},
{"transform":[{"filter":"datum.c >= 2 && (datum.r == 0 || datum.r == 5) && datum.t != ''"}],"mark":{"type":"text","align":"right","baseline":"middle","font":"Liberation Serif","fontSize":27,"fontWeight":"bold","color":"black"},"encoding":{"text":{"field":"t"}}},
{"transform":[{"filter":"datum.t == '' && (datum.r == -0.5 || datum.r == 5.5)"}],"mark":{"type":"line","color":"black","strokeWidth":2},"encoding":{"detail":{"field":"r","type":"nominal"}}},
{"transform":[{"filter":"datum.t == '' && (datum.r == 0.5 || datum.r == 4.5)"}],"mark":{"type":"line","color":"black","strokeWidth":1.2},"encoding":{"detail":{"field":"r","type":"nominal"}}}
]},
{"transform":[{"filter":{"field":"a","oneOf":["vipshop","alibaba","expedia","taobao","pinduoduo"]}}],
"facet":{"column":{"field":"a","type":"nominal","sort":["vipshop","alibaba","expedia","taobao","pinduoduo"],"header":{"title":null}}},
"spacing":10,"bounds":"flush",
"spec":{"width":219,"height":224,
"encoding":{
"x":{"field":"s","type":"quantitative","scale":{"domain":[1,50],"nice":false,"zero":false},"axis":{"values":[20,40],"labels":false,"title":null}},
"y":{"field":"v","type":"quantitative","scale":{"domain":[-1.1,35.1],"nice":false,"zero":false},"axis":{"values":[0,10,20,30],"title":"Cumulative reward"}},
"color":{"field":"m","type":"nominal","scale":{"domain":["JAMEL","MAI-UI","Mobile-Agent","ReAct-text","ReAct-vision"],"range":["#1f77b4","#d62728","#2ca02c","#ff7f0e","#9467bd"]},"legend":{"title":null}}},
"layer":[
{"mark":{"type":"line","strokeWidth":2.4,"clip":true},"encoding":{"strokeDash":{"field":"m","type":"nominal","scale":{"domain":["JAMEL","MAI-UI","Mobile-Agent","ReAct-text","ReAct-vision"],"range":[[1,0],[7,3.5],[12,3.5,2,3.5],[11,4],[2,3.3]]},"legend":{"title":null}}}},
{"transform":[{"filter":"datum.m == 'JAMEL' && indexof([1,11,21,31,41,50], datum.s) >= 0"}],"mark":{"type":"point","shape":"circle","filled":true,"size":45,"opacity":1,"clip":true}},
{"transform":[{"filter":"datum.m == 'MAI-UI' && indexof([1,11,21,31,41,50], datum.s) >= 0"}],"mark":{"type":"point","shape":"square","filled":true,"size":40,"opacity":1,"clip":true}},
{"transform":[{"filter":"datum.m == 'Mobile-Agent' && indexof([1,11,21,31,41,50], datum.s) >= 0"}],"mark":{"type":"point","shape":"triangle-up","filled":true,"size":40,"opacity":1,"clip":true}},
{"transform":[{"filter":"datum.m == 'ReAct-text' && indexof([1,11,21,31,41,50], datum.s) >= 0"}],"mark":{"type":"point","shape":"diamond","filled":true,"size":45,"opacity":1,"clip":true}},
{"transform":[{"filter":"datum.m == 'ReAct-vision' && indexof([1,11,21,31,41,50], datum.s) >= 0"}],"mark":{"type":"point","shape":"triangle-down","filled":true,"size":40,"opacity":1,"clip":true}}
]}},
{"transform":[{"filter":{"field":"a","oneOf":["dongchedi","youku","keep","meituan","temu"]}}],
"facet":{"column":{"field":"a","type":"nominal","sort":["dongchedi","youku","keep","meituan","temu"],"header":{"title":null}}},
"spacing":10,"bounds":"flush",
"spec":{"width":219,"height":224,
"encoding":{
"x":{"field":"s","type":"quantitative","scale":{"domain":[1,50],"nice":false,"zero":false},"axis":{"values":[20,40],"title":"Step","labelPadding":3,"titlePadding":4}},
"y":{"field":"v","type":"quantitative","scale":{"domain":[-1.1,35.1],"nice":false,"zero":false},"axis":{"values":[0,10,20,30],"title":"Cumulative reward"}},
"color":{"field":"m","type":"nominal","scale":{"domain":["JAMEL","MAI-UI","Mobile-Agent","ReAct-text","ReAct-vision"],"range":["#1f77b4","#d62728","#2ca02c","#ff7f0e","#9467bd"]},"legend":{"title":null}}},
"layer":[
{"mark":{"type":"line","strokeWidth":2.4,"clip":true},"encoding":{"strokeDash":{"field":"m","type":"nominal","scale":{"domain":["JAMEL","MAI-UI","Mobile-Agent","ReAct-text","ReAct-vision"],"range":[[1,0],[7,3.5],[12,3.5,2,3.5],[11,4],[2,3.3]]},"legend":{"title":null}}}},
{"transform":[{"filter":"datum.m == 'JAMEL' && indexof([1,11,21,31,41,50], datum.s) >= 0"}],"mark":{"type":"point","shape":"circle","filled":true,"size":45,"opacity":1,"clip":true}},
{"transform":[{"filter":"datum.m == 'MAI-UI' && indexof([1,11,21,31,41,50], datum.s) >= 0"}],"mark":{"type":"point","shape":"square","filled":true,"size":40,"opacity":1,"clip":true}},
{"transform":[{"filter":"datum.m == 'Mobile-Agent' && indexof([1,11,21,31,41,50], datum.s) >= 0"}],"mark":{"type":"point","shape":"triangle-up","filled":true,"size":40,"opacity":1,"clip":true}},
{"transform":[{"filter":"datum.m == 'ReAct-text' && indexof([1,11,21,31,41,50], datum.s) >= 0"}],"mark":{"type":"point","shape":"diamond","filled":true,"size":45,"opacity":1,"clip":true}},
{"transform":[{"filter":"datum.m == 'ReAct-vision' && indexof([1,11,21,31,41,50], datum.s) >= 0"}],"mark":{"type":"point","shape":"triangle-down","filled":true,"size":40,"opacity":1,"clip":true}}
]}},
{"width":1166,"height":100,"view":{"stroke":null},
"data":{"values":[{"p":0,"l":0,"t":"Figure 3:"},{"p":1,"l":0,"t":"Per-app reward accumulation."},{"p":2,"l":0,"t":"Cumulative coverage reward trajectories evaluated on"},{"p":0,"l":1,"t":"individual unseen applications."}]},
"encoding":{"x":{"field":"p","type":"quantitative","scale":{"domain":[0,1,2],"range":[-48,78,487],"nice":false,"zero":false},"axis":null},
"y":{"field":"l","type":"quantitative","scale":{"domain":[0,1],"range":[38,70],"nice":false,"zero":false},"axis":null},
"text":{"field":"t"}},
"layer":[
{"transform":[{"filter":"datum.p != 1"}],"mark":{"type":"text","align":"left","baseline":"middle","font":"Liberation Serif","fontSize":30,"color":"black"}},
{"transform":[{"filter":"datum.p == 1"}],"mark":{"type":"text","align":"left","baseline":"middle","font":"Liberation Serif","fontSize":30,"fontWeight":"bold","color":"black"}}
]}
]
}
